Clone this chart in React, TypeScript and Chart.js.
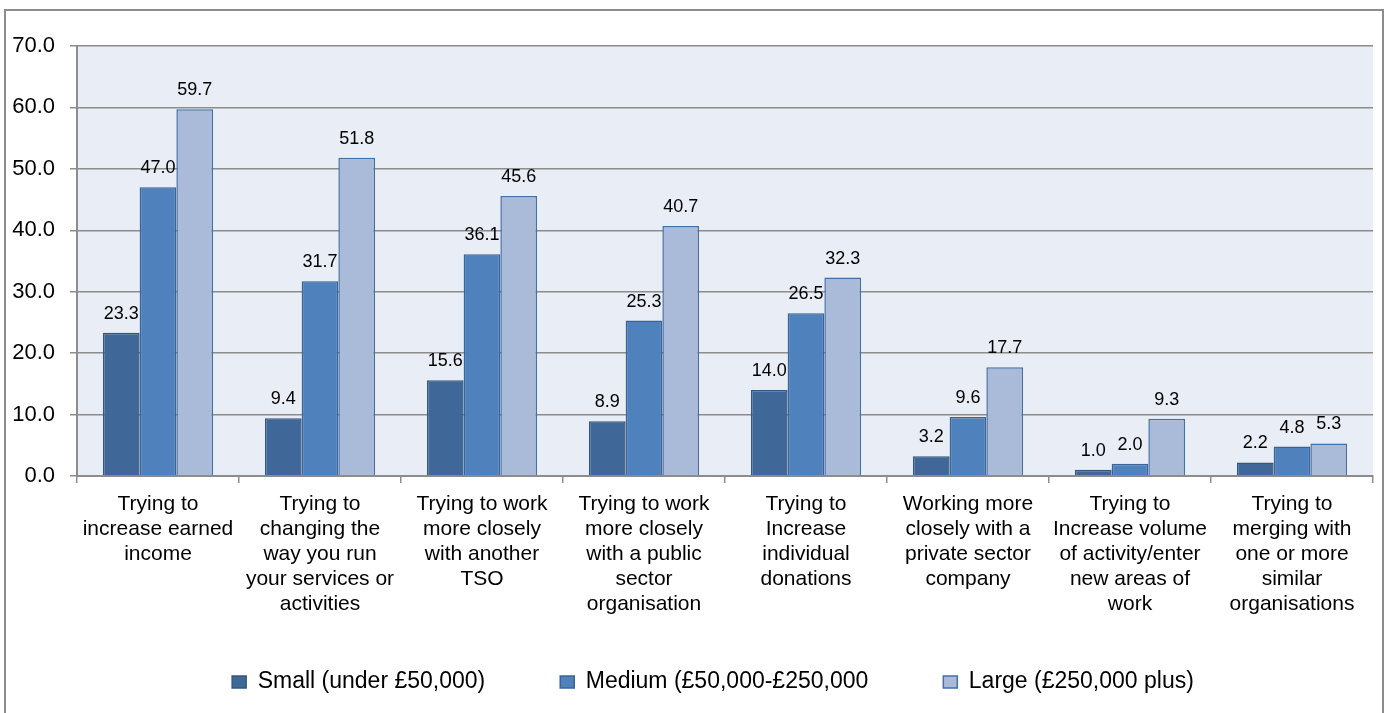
import React, { useEffect, useRef } from "react";
import { Chart, registerables } from "chart.js";

Chart.register(...registerables);

const categories: string[][] = [
  ["Trying to", "increase earned", "income"],
  ["Trying to", "changing the", "way you run", "your services or", "activities"],
  ["Trying to work", "more closely", "with another", "TSO"],
  ["Trying to work", "more closely", "with a public", "sector", "organisation"],
  ["Trying to", "Increase", "individual", "donations"],
  ["Working more", "closely with a", "private sector", "company"],
  ["Trying to", "Increase volume", "of activity/enter", "new areas of", "work"],
  ["Trying to", "merging with", "one or more", "similar", "organisations"],
];

const seriesNames = ["Small (under £50,000)", "Medium (£50,000-£250,000", "Large (£250,000 plus)"];
const smallValues = [23.3, 9.4, 15.6, 8.9, 14.0, 3.2, 1.0, 2.2];
const mediumValues = [47.0, 31.7, 36.1, 25.3, 26.5, 9.6, 2.0, 4.8];
const largeValues = [59.7, 51.8, 45.6, 40.7, 32.3, 17.7, 9.3, 5.3];

const FONT = "'Liberation Sans', Arial, sans-serif";
const LEGEND_PAD = 75;
const LEGEND_FONT = 23;

const frameAndBg = {
  id: "frameAndBg",
  beforeDraw(chart: any) {
    const { ctx, chartArea } = chart;
    ctx.save();
    ctx.fillStyle = "#ffffff";
    ctx.fillRect(0, 0, chart.width, chart.height);
    ctx.strokeStyle = "#8c8c8c";
    ctx.lineWidth = 2;
    ctx.strokeRect(5, 10, 1378, 710);
    ctx.fillStyle = "#e9edf5";
    ctx.fillRect(chartArea.left, chartArea.top, chartArea.right - chartArea.left, chartArea.bottom - chartArea.top);
    ctx.restore();
  },
};

const legendPlacer = {
  id: "legendPlacer",
  afterLayout(chart: any) {
    const lg = chart.legend;
    if (!lg) return;
    const dy = 682 - (lg.top + LEGEND_PAD + LEGEND_FONT / 2);
    lg.top += dy;
    lg.bottom += dy;
    const dx = -12;
    lg.left += dx;
    lg.right += dx;
  },
};

const valueLabels = {
  id: "valueLabels",
  afterDatasetsDraw(chart: any) {
    const { ctx } = chart;
    ctx.save();
    ctx.font = `18px ${FONT}`;
    ctx.fillStyle = "#000000";
    ctx.textAlign = "center";
    ctx.textBaseline = "alphabetic";
    chart.data.datasets.forEach((ds: any, i: number) => {
      const meta = chart.getDatasetMeta(i);
      meta.data.forEach((bar: any, j: number) => {
        const v = ds.data[j] as number;
        ctx.fillText(v.toFixed(1), bar.x, bar.y - 14);
      });
    });
    ctx.restore();
  },
};

export default function App() {
  const ref = useRef<HTMLCanvasElement | null>(null);
  useEffect(() => {
    document.body.style.margin = "0";
    if (!ref.current) return;
    const chart = new Chart(ref.current, {
      type: "bar",
      data: {
        labels: categories,
        datasets: [
          {
            label: seriesNames[0],
            data: smallValues,
            backgroundColor: "#3f6797",
            borderColor: "#34577f",
            borderWidth: 1.5,
          },
          {
            label: seriesNames[1],
            data: mediumValues,
            backgroundColor: "#4f81bd",
            borderColor: "#3a6496",
            borderWidth: 1.5,
          },
          {
            label: seriesNames[2],
            data: largeValues,
            backgroundColor: "#aabad9",
            borderColor: "#4470a6",
            borderWidth: 1.5,
          },
        ],
      },
      options: {
        responsive: false,
        animation: false,
        devicePixelRatio: 1,
        layout: { padding: { left: 0, right: 16, top: 46, bottom: -11 } },
        plugins: {
          legend: {
            position: "bottom",
            fullSize: false,
            labels: {
              boxWidth: 14,
              boxHeight: 12,
              padding: LEGEND_PAD,
              color: "#000000",
              font: { family: FONT, size: LEGEND_FONT },
            },
          },
          tooltip: { enabled: false },
        },
        datasets: { bar: { categoryPercentage: 0.68, barPercentage: 1 } } as any,
        scales: {
          x: {
            afterFit(scale: any) {
              scale.height = 140;
            },
            grid: {
              display: true,
              drawOnChartArea: false,
              drawTicks: true,
              tickLength: 7,
              color: "#8c8c8c",
              lineWidth: 1.5,
              offset: true,
            },
            border: { display: true, color: "#8c8c8c", width: 2 },
            ticks: {
              color: "#000000",
              padding: 9,
              maxRotation: 0,
              autoSkip: false,
              font: { family: FONT, size: 21, lineHeight: 25 / 21 },
            },
          },
          y: {
            min: 0,
            max: 70,
            afterFit(scale: any) {
              scale.width = 77;
            },
            grid: {
              color: "#8c8c8c",
              lineWidth: 1.5,
              tickLength: 7,
              drawTicks: true,
            },
            border: { display: true, color: "#8c8c8c", width: 2 },
            ticks: {
              stepSize: 10,
              padding: 15,
              color: "#000000",
              font: { family: FONT, size: 22 },
              callback: (v: any) => Number(v).toFixed(1),
            },
          },
        },
      },
      plugins: [frameAndBg, legendPlacer, valueLabels],
    });
    return () => chart.destroy();
  }, []);
  return <canvas ref={ref} width={1389} height={713} style={{ display: "block" }} />;
}
